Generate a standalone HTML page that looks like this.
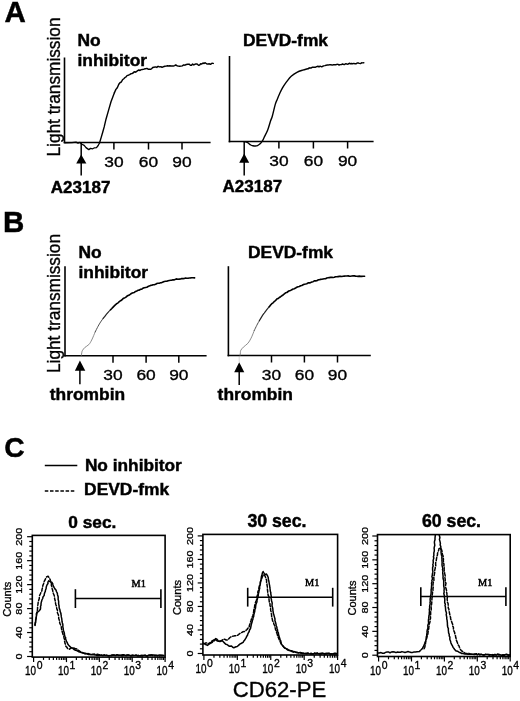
<!DOCTYPE html>
<html><head><meta charset="utf-8"><title>Figure</title>
<style>
html,body{margin:0;padding:0;background:#fff;}
body{width:520px;height:701px;overflow:hidden;}
svg{display:block;}
</style></head>
<body>
<svg width="520" height="701" viewBox="0 0 520 701">
<style>text{stroke:#000;stroke-width:0.35px;} text[font-weight="bold"]{stroke-width:0.45px;}</style>
<rect width="520" height="701" fill="#fff"/>
<text x="4.6" y="22" font-size="29.5" font-weight="bold" text-anchor="start" font-family='"Liberation Sans", Arial, Helvetica, sans-serif' >A</text>
<text x="3.0" y="231.6" font-size="29.5" font-weight="bold" text-anchor="start" font-family='"Liberation Sans", Arial, Helvetica, sans-serif' >B</text>
<text x="4.3" y="456.5" font-size="28.2" font-weight="bold" text-anchor="start" font-family='"Liberation Sans", Arial, Helvetica, sans-serif' >C</text>
<line x1="64.5" y1="57.5" x2="64.5" y2="143.3" stroke="#000" stroke-width="1.6" />
<line x1="63.7" y1="142.5" x2="210.6" y2="142.5" stroke="#000" stroke-width="1.6" />
<line x1="113.9" y1="142.5" x2="113.9" y2="149.5" stroke="#000" stroke-width="1.5" />
<line x1="148.5" y1="142.5" x2="148.5" y2="149.5" stroke="#000" stroke-width="1.5" />
<line x1="182" y1="142.5" x2="182" y2="149.5" stroke="#000" stroke-width="1.5" />
<text x="113.9" y="166.9" font-size="15.5" font-weight="normal" text-anchor="middle" font-family='"Liberation Sans", Arial, Helvetica, sans-serif' textLength="19.3" lengthAdjust="spacingAndGlyphs" >30</text>
<text x="148.5" y="166.9" font-size="15.5" font-weight="normal" text-anchor="middle" font-family='"Liberation Sans", Arial, Helvetica, sans-serif' textLength="19.3" lengthAdjust="spacingAndGlyphs" >60</text>
<text x="182" y="166.9" font-size="15.5" font-weight="normal" text-anchor="middle" font-family='"Liberation Sans", Arial, Helvetica, sans-serif' textLength="19.3" lengthAdjust="spacingAndGlyphs" >90</text>
<text x="77.5" y="45.6" font-size="17.4" font-weight="bold" text-anchor="start" font-family='"Liberation Sans", Arial, Helvetica, sans-serif' >No</text>
<text x="77.5" y="65.6" font-size="17.4" font-weight="bold" text-anchor="start" font-family='"Liberation Sans", Arial, Helvetica, sans-serif' >inhibitor</text>
<text transform="translate(60.0,87) rotate(-90)" x="0" y="0" font-size="18.3" text-anchor="middle" font-family='"Liberation Sans", Arial, Helvetica, sans-serif' textLength="139" lengthAdjust="spacingAndGlyphs" stroke="#000" stroke-width="0.25">Light transmission</text>
<text x="50.8" y="192.5" font-size="17.0" font-weight="bold" text-anchor="start" font-family='"Liberation Sans", Arial, Helvetica, sans-serif' >A23187</text>
<line x1="229.5" y1="56" x2="229.5" y2="142.3" stroke="#000" stroke-width="1.6" />
<line x1="228.7" y1="141.5" x2="373.6" y2="141.5" stroke="#000" stroke-width="1.6" />
<line x1="278.9" y1="141.5" x2="278.9" y2="148.5" stroke="#000" stroke-width="1.5" />
<line x1="313.4" y1="141.5" x2="313.4" y2="148.5" stroke="#000" stroke-width="1.5" />
<line x1="347.6" y1="141.5" x2="347.6" y2="148.5" stroke="#000" stroke-width="1.5" />
<text x="278.9" y="165.9" font-size="15.5" font-weight="normal" text-anchor="middle" font-family='"Liberation Sans", Arial, Helvetica, sans-serif' textLength="19.3" lengthAdjust="spacingAndGlyphs" >30</text>
<text x="313.4" y="165.9" font-size="15.5" font-weight="normal" text-anchor="middle" font-family='"Liberation Sans", Arial, Helvetica, sans-serif' textLength="19.3" lengthAdjust="spacingAndGlyphs" >60</text>
<text x="347.6" y="165.9" font-size="15.5" font-weight="normal" text-anchor="middle" font-family='"Liberation Sans", Arial, Helvetica, sans-serif' textLength="19.3" lengthAdjust="spacingAndGlyphs" >90</text>
<text x="243" y="45.5" font-size="17.4" font-weight="bold" text-anchor="start" font-family='"Liberation Sans", Arial, Helvetica, sans-serif' >DEVD-fmk</text>
<text x="222.6" y="192.4" font-size="17.0" font-weight="bold" text-anchor="start" font-family='"Liberation Sans", Arial, Helvetica, sans-serif' >A23187</text>
<line x1="65" y1="266.2" x2="65" y2="356.6" stroke="#000" stroke-width="1.6" />
<line x1="64.2" y1="355.8" x2="206.6" y2="355.8" stroke="#000" stroke-width="1.6" />
<line x1="113" y1="355.8" x2="113" y2="362.8" stroke="#000" stroke-width="1.5" />
<line x1="146.1" y1="355.8" x2="146.1" y2="362.8" stroke="#000" stroke-width="1.5" />
<line x1="178.8" y1="355.8" x2="178.8" y2="362.8" stroke="#000" stroke-width="1.5" />
<text x="113" y="380.2" font-size="15.5" font-weight="normal" text-anchor="middle" font-family='"Liberation Sans", Arial, Helvetica, sans-serif' textLength="19.3" lengthAdjust="spacingAndGlyphs" >30</text>
<text x="146.1" y="380.2" font-size="15.5" font-weight="normal" text-anchor="middle" font-family='"Liberation Sans", Arial, Helvetica, sans-serif' textLength="19.3" lengthAdjust="spacingAndGlyphs" >60</text>
<text x="178.8" y="380.2" font-size="15.5" font-weight="normal" text-anchor="middle" font-family='"Liberation Sans", Arial, Helvetica, sans-serif' textLength="19.3" lengthAdjust="spacingAndGlyphs" >90</text>
<text x="78.5" y="257.5" font-size="17.4" font-weight="bold" text-anchor="start" font-family='"Liberation Sans", Arial, Helvetica, sans-serif' >No</text>
<text x="78.5" y="278" font-size="17.4" font-weight="bold" text-anchor="start" font-family='"Liberation Sans", Arial, Helvetica, sans-serif' >inhibitor</text>
<text transform="translate(60.0,303.5) rotate(-90)" x="0" y="0" font-size="18.3" text-anchor="middle" font-family='"Liberation Sans", Arial, Helvetica, sans-serif' textLength="139" lengthAdjust="spacingAndGlyphs" stroke="#000" stroke-width="0.25">Light transmission</text>
<text x="49.8" y="400" font-size="17.4" font-weight="bold" text-anchor="start" font-family='"Liberation Sans", Arial, Helvetica, sans-serif' >thrombin</text>
<line x1="228.4" y1="266.2" x2="228.4" y2="356.3" stroke="#000" stroke-width="1.6" />
<line x1="227.6" y1="355.5" x2="370.8" y2="355.5" stroke="#000" stroke-width="1.6" />
<line x1="271.5" y1="355.5" x2="271.5" y2="362.5" stroke="#000" stroke-width="1.5" />
<line x1="304.4" y1="355.5" x2="304.4" y2="362.5" stroke="#000" stroke-width="1.5" />
<line x1="337.5" y1="355.5" x2="337.5" y2="362.5" stroke="#000" stroke-width="1.5" />
<text x="271.5" y="379.9" font-size="15.5" font-weight="normal" text-anchor="middle" font-family='"Liberation Sans", Arial, Helvetica, sans-serif' textLength="19.3" lengthAdjust="spacingAndGlyphs" >30</text>
<text x="304.4" y="379.9" font-size="15.5" font-weight="normal" text-anchor="middle" font-family='"Liberation Sans", Arial, Helvetica, sans-serif' textLength="19.3" lengthAdjust="spacingAndGlyphs" >60</text>
<text x="337.5" y="379.9" font-size="15.5" font-weight="normal" text-anchor="middle" font-family='"Liberation Sans", Arial, Helvetica, sans-serif' textLength="19.3" lengthAdjust="spacingAndGlyphs" >90</text>
<text x="248" y="257.5" font-size="17.4" font-weight="bold" text-anchor="start" font-family='"Liberation Sans", Arial, Helvetica, sans-serif' >DEVD-fmk</text>
<text x="217.6" y="399.6" font-size="17.4" font-weight="bold" text-anchor="start" font-family='"Liberation Sans", Arial, Helvetica, sans-serif' >thrombin</text>
<line x1="81.2" y1="142.8" x2="81.2" y2="175.6" stroke="#000" stroke-width="1.5" />
<polygon points="81.2,154.4 76.2,163.6 86.4,163.6" fill="#000"/>
<line x1="244.2" y1="141.7" x2="244.2" y2="175.4" stroke="#000" stroke-width="1.5" />
<polygon points="244.2,153.4 239.2,162.8 249.2,162.8" fill="#000"/>
<line x1="79.9" y1="365" x2="79.9" y2="384.3" stroke="#000" stroke-width="1.5" />
<polygon points="79.9,360.6 74.9,370.8 85.3,370.8" fill="#000"/>
<line x1="239.2" y1="365" x2="239.2" y2="385" stroke="#000" stroke-width="1.5" />
<polygon points="239.2,362.2 234.2,372.3 244.3,372.3" fill="#000"/>
<line x1="239.2" y1="356.5" x2="239.2" y2="362" stroke="#777" stroke-width="0.6" stroke-dasharray="1,1"/>
<polyline points="65.0,142.8 72.0,142.6 76.0,142.2 78.0,143.2 80.0,142.4 82.0,144.2 84.2,145.4 86.0,147.6 88.8,149.6 90.5,148.4 92.7,148.8 94.5,147.8 96.5,147.6 98.2,145.5 99.6,142.8" fill="none" stroke="#000" stroke-width="1.3" stroke-linejoin="round" stroke-linecap="round" />
<polyline points="99.6,142.8 101.2,137.4 102.7,132.3 104.2,126.9 106.0,119.2 108.6,110.1 111.0,101.7 114.4,92.7" fill="none" stroke="#000" stroke-width="1.4" stroke-linejoin="round" stroke-linecap="round" />
<polyline points="114.4,92.7 115.9,89.4 117.3,87.7 118.8,84.3 120.0,82.7 121.3,82.0 122.5,79.8 123.8,78.7 125.0,77.5 126.1,76.8 127.3,75.4 128.4,75.2 129.6,74.6 130.8,73.8 131.9,73.6 133.1,73.0 134.2,71.8 135.4,72.2 136.6,71.5 137.7,70.7 138.9,70.0 140.0,70.5 141.2,69.6 142.3,69.5 143.5,69.4 144.7,68.8 145.8,68.7 146.9,68.4 148.1,69.2 149.2,69.1 150.4,69.3 151.5,68.9 152.7,67.5 154.0,67.2 155.4,66.9 156.8,67.4 158.1,66.3 159.4,66.9 160.8,66.8 162.1,67.3 163.4,66.7 164.8,66.3 166.2,66.1 167.5,65.7 168.7,66.0 169.8,65.7 171.0,66.0 172.2,65.9 173.4,66.0 174.6,65.6 175.7,64.9 176.9,65.7 178.3,66.1 179.6,66.3 181.0,66.1 182.3,65.9 183.7,64.9 185.0,65.2 186.3,64.5 187.7,64.3 189.0,64.1 190.4,65.2 191.5,65.3 192.6,64.1 193.8,64.9 194.9,64.3 196.0,63.9 197.1,64.0 198.5,65.2 199.6,65.0 200.7,63.7 201.8,64.0 203.0,63.0 204.1,63.5 205.2,62.7 206.5,63.7 207.7,64.1 209.0,63.8 210.4,64.3 211.9,63.3 213.3,63.4" fill="none" stroke="#000" stroke-width="1.45" stroke-linejoin="round" stroke-linecap="round" />
<path d="M244.2,141.7 C244.5,141.7 245.4,141.8 246.0,141.9 C246.6,142.1 246.9,142.1 247.7,142.6 C248.5,143.1 249.9,144.5 250.8,145.0 C251.7,145.5 252.2,145.6 253.0,145.8 C253.8,146.0 254.7,146.0 255.4,146.0 C256.1,146.0 256.8,145.9 257.5,145.6 C258.2,145.3 258.9,144.8 259.5,144.3 C260.1,143.8 260.7,143.2 261.2,142.6 C261.7,142.0 262.0,141.6 262.6,140.6 C263.2,139.6 263.8,138.2 264.6,136.4 C265.5,134.6 266.7,132.6 267.7,130.0 C268.7,127.4 269.8,123.1 270.6,120.8 C271.4,118.5 271.5,118.9 272.3,116.2 C273.1,113.5 274.4,107.4 275.2,104.6 C276.0,101.8 276.5,101.2 277.2,99.4 C277.9,97.6 278.7,95.6 279.6,93.7 C280.5,91.8 281.4,89.8 282.5,87.9 C283.6,86.0 284.9,84.0 286.3,82.1 C287.8,80.2 289.4,77.9 291.2,76.3 C293.0,74.7 295.0,73.3 296.9,72.3 C298.8,71.3 300.8,70.7 302.7,70.1 C304.6,69.5 307.5,68.8 308.5,68.5" fill="none" stroke="#000" stroke-width="1.4" stroke-linejoin="round" stroke-linecap="round" />
<polyline points="308.5,68.5 309.7,67.8 310.9,68.1 312.1,67.3 313.3,67.2 314.4,67.2 315.6,67.2 316.7,66.6 317.9,66.2 319.0,66.9 320.1,66.2 321.2,66.7 322.4,66.5 323.5,65.9 324.8,65.6 326.2,65.2 327.5,64.9 328.7,64.9 329.9,64.8 331.0,64.8 332.2,65.1 333.4,64.7 334.5,64.6 335.7,64.8 336.9,64.3 338.0,64.4 339.1,65.0 340.2,64.6 341.4,64.6 342.5,64.0 343.6,64.4 344.7,64.4 345.9,63.7 347.0,64.2 348.1,64.0 349.3,63.3 350.4,63.7 351.5,63.5 352.6,63.7 353.8,63.4 354.9,63.7 356.0,63.8 357.1,63.0 358.2,62.9 359.3,63.4 360.5,63.6 361.6,62.8 362.7,62.9 363.8,62.8" fill="none" stroke="#000" stroke-width="1.45" stroke-linejoin="round" stroke-linecap="round" />
<path d="M81.3,355.6 C81.4,355.1 81.6,353.4 81.8,352.5 C82.0,351.6 82.0,351.2 82.5,350.4 C83.0,349.6 83.8,348.5 84.8,347.5 C85.8,346.5 87.6,345.9 88.8,344.6 C90.0,343.4 90.6,342.1 91.7,340.0 C92.8,337.9 94.6,333.2 95.2,331.9" fill="none" stroke="#666" stroke-width="0.75" stroke-linejoin="round" stroke-linecap="round" />
<path d="M95.2,331.9 C95.7,330.9 97.2,327.9 98.1,326.2 C99.0,324.5 99.8,323.3 100.6,322.0 C101.4,320.7 102.7,319.1 103.1,318.5" fill="none" stroke="#444" stroke-width="0.95" stroke-linejoin="round" stroke-linecap="round" />
<path d="M103.1,318.5 C103.5,318.0 104.8,316.4 105.6,315.3 C106.4,314.3 107.3,313.3 108.1,312.4 C108.9,311.5 110.2,310.1 110.6,309.7" fill="none" stroke="#222" stroke-width="1.2" stroke-linejoin="round" stroke-linecap="round" />
<polyline points="110.6,309.7 111.8,308.5 113.1,307.1 114.3,305.9 115.6,304.7 116.8,303.7 118.1,302.8 119.3,301.6 120.6,300.7 121.8,300.0 123.1,298.6 124.3,298.1 125.6,297.4 126.8,296.3 128.1,295.5 129.3,295.1 130.6,294.0 131.8,293.3 133.1,292.8 134.3,292.4 135.6,291.4 136.8,290.9 138.1,290.3 139.3,290.1 140.6,289.3 141.8,289.1 143.1,288.1 144.3,287.8 145.6,287.5 146.8,287.2 148.1,286.5 149.3,285.9 150.6,285.4 151.8,285.3 153.1,284.7 154.3,284.7 155.6,284.3 156.8,283.5 158.1,283.2 159.3,283.2 160.6,282.8 161.8,282.6 163.1,282.0 164.3,281.5 165.6,281.3 166.8,281.3 168.1,280.8 169.3,280.5 170.6,280.3 171.8,280.1 173.1,279.8 174.3,279.9 175.6,279.2 176.8,278.9 178.1,279.3 179.3,279.1 180.6,279.0 181.8,278.5 183.1,278.6 184.3,278.5 185.6,278.0 186.8,278.2 188.1,278.2 189.3,278.0 190.6,277.9 191.8,277.7 193.1,277.7 194.6,277.9" fill="none" stroke="#000" stroke-width="1.6" stroke-linejoin="round" stroke-linecap="round" />
<path d="M240.1,355.5 C240.2,355.0 240.3,353.4 240.4,352.5 C240.5,351.6 240.3,351.2 240.8,350.3 C241.3,349.4 242.2,348.3 243.4,347.1 C244.6,345.9 246.6,344.8 247.9,343.3 C249.2,341.8 250.0,340.2 251.1,338.1 C252.2,336.0 253.8,331.7 254.3,330.4" fill="none" stroke="#666" stroke-width="0.75" stroke-linejoin="round" stroke-linecap="round" />
<path d="M254.3,330.4 C254.7,329.6 256.0,326.9 256.8,325.3 C257.6,323.7 258.9,321.5 259.3,320.8" fill="none" stroke="#444" stroke-width="0.95" stroke-linejoin="round" stroke-linecap="round" />
<path d="M259.3,320.8 C259.7,320.1 261.0,317.9 261.8,316.6 C262.6,315.3 263.5,314.1 264.3,313.0 C265.1,311.8 266.0,310.7 266.8,309.6 C267.6,308.6 268.9,307.2 269.3,306.7" fill="none" stroke="#222" stroke-width="1.2" stroke-linejoin="round" stroke-linecap="round" />
<polyline points="269.3,306.7 270.6,305.1 271.8,303.7 273.1,302.8 274.3,301.4 275.6,300.6 276.8,299.1 278.1,298.6 279.3,297.5 280.6,296.7 281.8,295.8 283.1,295.0 284.3,293.9 285.6,292.8 286.8,292.5 288.1,291.5 289.3,290.8 290.6,290.4 291.8,289.7 293.1,289.0 294.3,288.7 295.6,288.0 296.8,287.3 298.1,286.7 299.3,286.5 300.6,285.8 301.8,285.5 303.1,284.8 304.3,284.2 305.6,284.0 306.8,283.7 308.1,282.9 309.3,282.9 310.6,282.6 311.8,282.1 313.1,281.7 314.3,280.9 315.6,280.9 316.8,280.7 318.1,279.9 319.3,279.7 320.6,279.4 321.8,279.3 323.1,279.0 324.3,278.7 325.6,278.7 326.8,278.0 328.1,277.8 329.3,277.6 330.6,277.4 331.8,277.2 333.1,277.5 334.3,277.3 335.6,276.7 336.8,276.8 338.1,276.6 339.3,276.4 340.6,276.4 341.8,276.5 343.1,276.3 344.3,276.1 345.6,276.0 346.8,276.0 348.1,275.9 349.3,276.1 350.6,276.2 351.8,276.0 353.1,275.8 354.3,275.9 355.6,276.1 356.8,276.2 358.1,276.4 359.3,276.1 360.6,276.4 361.8,276.4 363.1,276.3 364.3,276.3 364.6,276.3" fill="none" stroke="#000" stroke-width="1.6" stroke-linejoin="round" stroke-linecap="round" />
<line x1="44.8" y1="465.4" x2="77.3" y2="465.4" stroke="#000" stroke-width="1.5" />
<line x1="44.8" y1="491" x2="75.5" y2="491" stroke="#000" stroke-width="1.6" stroke-dasharray="3.5,1.7"/>
<text x="84.9" y="471.2" font-size="17.3" font-weight="bold" text-anchor="start" font-family='"Liberation Sans", Arial, Helvetica, sans-serif' >No inhibitor</text>
<text x="84.1" y="494.6" font-size="17.4" font-weight="bold" text-anchor="start" font-family='"Liberation Sans", Arial, Helvetica, sans-serif' >DEVD-fmk</text>
<rect x="32.3" y="535.4" width="132.8" height="121.70000000000005" fill="none" stroke="#000" stroke-width="1.6"/>
<line x1="27.1" y1="656.5" x2="32.3" y2="656.5" stroke="#000" stroke-width="1.2" />
<line x1="29.3" y1="651.71" x2="32.3" y2="651.71" stroke="#000" stroke-width="1.2" />
<line x1="29.3" y1="646.92" x2="32.3" y2="646.92" stroke="#000" stroke-width="1.2" />
<line x1="29.3" y1="642.12" x2="32.3" y2="642.12" stroke="#000" stroke-width="1.2" />
<line x1="29.3" y1="637.33" x2="32.3" y2="637.33" stroke="#000" stroke-width="1.2" />
<line x1="27.1" y1="632.54" x2="32.3" y2="632.54" stroke="#000" stroke-width="1.2" />
<line x1="29.3" y1="627.75" x2="32.3" y2="627.75" stroke="#000" stroke-width="1.2" />
<line x1="29.3" y1="622.96" x2="32.3" y2="622.96" stroke="#000" stroke-width="1.2" />
<line x1="29.3" y1="618.16" x2="32.3" y2="618.16" stroke="#000" stroke-width="1.2" />
<line x1="29.3" y1="613.37" x2="32.3" y2="613.37" stroke="#000" stroke-width="1.2" />
<line x1="27.1" y1="608.58" x2="32.3" y2="608.58" stroke="#000" stroke-width="1.2" />
<line x1="29.3" y1="603.79" x2="32.3" y2="603.79" stroke="#000" stroke-width="1.2" />
<line x1="29.3" y1="599.0" x2="32.3" y2="599.0" stroke="#000" stroke-width="1.2" />
<line x1="29.3" y1="594.2" x2="32.3" y2="594.2" stroke="#000" stroke-width="1.2" />
<line x1="29.3" y1="589.41" x2="32.3" y2="589.41" stroke="#000" stroke-width="1.2" />
<line x1="27.1" y1="584.62" x2="32.3" y2="584.62" stroke="#000" stroke-width="1.2" />
<line x1="29.3" y1="579.83" x2="32.3" y2="579.83" stroke="#000" stroke-width="1.2" />
<line x1="29.3" y1="575.04" x2="32.3" y2="575.04" stroke="#000" stroke-width="1.2" />
<line x1="29.3" y1="570.24" x2="32.3" y2="570.24" stroke="#000" stroke-width="1.2" />
<line x1="29.3" y1="565.45" x2="32.3" y2="565.45" stroke="#000" stroke-width="1.2" />
<line x1="27.1" y1="560.66" x2="32.3" y2="560.66" stroke="#000" stroke-width="1.2" />
<line x1="29.3" y1="555.87" x2="32.3" y2="555.87" stroke="#000" stroke-width="1.2" />
<line x1="29.3" y1="551.08" x2="32.3" y2="551.08" stroke="#000" stroke-width="1.2" />
<line x1="29.3" y1="546.28" x2="32.3" y2="546.28" stroke="#000" stroke-width="1.2" />
<line x1="29.3" y1="541.49" x2="32.3" y2="541.49" stroke="#000" stroke-width="1.2" />
<line x1="27.1" y1="536.7" x2="32.3" y2="536.7" stroke="#000" stroke-width="1.2" />
<text transform="translate(22.3,656.5) rotate(-90) scale(1,0.8)" font-size="11" text-anchor="middle" font-family='"Liberation Sans", Arial, Helvetica, sans-serif' textLength="6.0" lengthAdjust="spacingAndGlyphs">0</text>
<text transform="translate(22.3,632.5) rotate(-90) scale(1,0.8)" font-size="11" text-anchor="middle" font-family='"Liberation Sans", Arial, Helvetica, sans-serif' textLength="12.1" lengthAdjust="spacingAndGlyphs">40</text>
<text transform="translate(22.3,608.6) rotate(-90) scale(1,0.8)" font-size="11" text-anchor="middle" font-family='"Liberation Sans", Arial, Helvetica, sans-serif' textLength="12.1" lengthAdjust="spacingAndGlyphs">80</text>
<text transform="translate(22.3,584.6) rotate(-90) scale(1,0.8)" font-size="11" text-anchor="middle" font-family='"Liberation Sans", Arial, Helvetica, sans-serif' textLength="18.1" lengthAdjust="spacingAndGlyphs">120</text>
<text transform="translate(22.3,560.7) rotate(-90) scale(1,0.8)" font-size="11" text-anchor="middle" font-family='"Liberation Sans", Arial, Helvetica, sans-serif' textLength="18.1" lengthAdjust="spacingAndGlyphs">160</text>
<text transform="translate(22.3,536.7) rotate(-90) scale(1,0.8)" font-size="11" text-anchor="middle" font-family='"Liberation Sans", Arial, Helvetica, sans-serif' textLength="18.1" lengthAdjust="spacingAndGlyphs">200</text>
<text transform="translate(10.7,599.2) rotate(-90) scale(1,0.92)" font-size="11.3" text-anchor="middle" font-family='"Liberation Sans", Arial, Helvetica, sans-serif' textLength="35" lengthAdjust="spacingAndGlyphs">Counts</text>
<line x1="33.6" y1="657.1" x2="33.6" y2="662.1" stroke="#000" stroke-width="1.2" />
<line x1="43.5" y1="657.1" x2="43.5" y2="659.9" stroke="#000" stroke-width="1.2" />
<line x1="49.29" y1="657.1" x2="49.29" y2="659.9" stroke="#000" stroke-width="1.2" />
<line x1="53.39" y1="657.1" x2="53.39" y2="659.9" stroke="#000" stroke-width="1.2" />
<line x1="56.58" y1="657.1" x2="56.58" y2="659.9" stroke="#000" stroke-width="1.2" />
<line x1="59.18" y1="657.1" x2="59.18" y2="659.9" stroke="#000" stroke-width="1.2" />
<line x1="61.38" y1="657.1" x2="61.38" y2="659.9" stroke="#000" stroke-width="1.2" />
<line x1="63.29" y1="657.1" x2="63.29" y2="659.9" stroke="#000" stroke-width="1.2" />
<line x1="64.97" y1="657.1" x2="64.97" y2="659.9" stroke="#000" stroke-width="1.2" />
<line x1="66.47" y1="657.1" x2="66.47" y2="662.1" stroke="#000" stroke-width="1.2" />
<line x1="76.37" y1="657.1" x2="76.37" y2="659.9" stroke="#000" stroke-width="1.2" />
<line x1="82.16" y1="657.1" x2="82.16" y2="659.9" stroke="#000" stroke-width="1.2" />
<line x1="86.27" y1="657.1" x2="86.27" y2="659.9" stroke="#000" stroke-width="1.2" />
<line x1="89.45" y1="657.1" x2="89.45" y2="659.9" stroke="#000" stroke-width="1.2" />
<line x1="92.06" y1="657.1" x2="92.06" y2="659.9" stroke="#000" stroke-width="1.2" />
<line x1="94.26" y1="657.1" x2="94.26" y2="659.9" stroke="#000" stroke-width="1.2" />
<line x1="96.16" y1="657.1" x2="96.16" y2="659.9" stroke="#000" stroke-width="1.2" />
<line x1="97.85" y1="657.1" x2="97.85" y2="659.9" stroke="#000" stroke-width="1.2" />
<line x1="99.35" y1="657.1" x2="99.35" y2="662.1" stroke="#000" stroke-width="1.2" />
<line x1="109.25" y1="657.1" x2="109.25" y2="659.9" stroke="#000" stroke-width="1.2" />
<line x1="115.04" y1="657.1" x2="115.04" y2="659.9" stroke="#000" stroke-width="1.2" />
<line x1="119.14" y1="657.1" x2="119.14" y2="659.9" stroke="#000" stroke-width="1.2" />
<line x1="122.33" y1="657.1" x2="122.33" y2="659.9" stroke="#000" stroke-width="1.2" />
<line x1="124.93" y1="657.1" x2="124.93" y2="659.9" stroke="#000" stroke-width="1.2" />
<line x1="127.13" y1="657.1" x2="127.13" y2="659.9" stroke="#000" stroke-width="1.2" />
<line x1="129.04" y1="657.1" x2="129.04" y2="659.9" stroke="#000" stroke-width="1.2" />
<line x1="130.72" y1="657.1" x2="130.72" y2="659.9" stroke="#000" stroke-width="1.2" />
<line x1="132.22" y1="657.1" x2="132.22" y2="662.1" stroke="#000" stroke-width="1.2" />
<line x1="142.12" y1="657.1" x2="142.12" y2="659.9" stroke="#000" stroke-width="1.2" />
<line x1="147.91" y1="657.1" x2="147.91" y2="659.9" stroke="#000" stroke-width="1.2" />
<line x1="152.02" y1="657.1" x2="152.02" y2="659.9" stroke="#000" stroke-width="1.2" />
<line x1="155.2" y1="657.1" x2="155.2" y2="659.9" stroke="#000" stroke-width="1.2" />
<line x1="157.81" y1="657.1" x2="157.81" y2="659.9" stroke="#000" stroke-width="1.2" />
<line x1="160.01" y1="657.1" x2="160.01" y2="659.9" stroke="#000" stroke-width="1.2" />
<line x1="161.91" y1="657.1" x2="161.91" y2="659.9" stroke="#000" stroke-width="1.2" />
<line x1="163.6" y1="657.1" x2="163.6" y2="659.9" stroke="#000" stroke-width="1.2" />
<line x1="165.1" y1="657.1" x2="165.1" y2="662.1" stroke="#000" stroke-width="1.2" />
<text x="25.1" y="675.1" font-size="12.5" font-family='"Liberation Sans", Arial, Helvetica, sans-serif' textLength="11" lengthAdjust="spacingAndGlyphs">10</text>
<text x="36.7" y="669.3" font-size="11.8" font-family='"Liberation Sans", Arial, Helvetica, sans-serif' textLength="5.8" lengthAdjust="spacingAndGlyphs">0</text>
<text x="58.0" y="675.1" font-size="12.5" font-family='"Liberation Sans", Arial, Helvetica, sans-serif' textLength="11" lengthAdjust="spacingAndGlyphs">10</text>
<text x="69.6" y="669.3" font-size="11.8" font-family='"Liberation Sans", Arial, Helvetica, sans-serif' textLength="5.8" lengthAdjust="spacingAndGlyphs">1</text>
<text x="90.8" y="675.1" font-size="12.5" font-family='"Liberation Sans", Arial, Helvetica, sans-serif' textLength="11" lengthAdjust="spacingAndGlyphs">10</text>
<text x="102.4" y="669.3" font-size="11.8" font-family='"Liberation Sans", Arial, Helvetica, sans-serif' textLength="5.8" lengthAdjust="spacingAndGlyphs">2</text>
<text x="123.7" y="675.1" font-size="12.5" font-family='"Liberation Sans", Arial, Helvetica, sans-serif' textLength="11" lengthAdjust="spacingAndGlyphs">10</text>
<text x="135.3" y="669.3" font-size="11.8" font-family='"Liberation Sans", Arial, Helvetica, sans-serif' textLength="5.8" lengthAdjust="spacingAndGlyphs">3</text>
<text x="156.6" y="675.1" font-size="12.5" font-family='"Liberation Sans", Arial, Helvetica, sans-serif' textLength="11" lengthAdjust="spacingAndGlyphs">10</text>
<text x="168.2" y="669.3" font-size="11.8" font-family='"Liberation Sans", Arial, Helvetica, sans-serif' textLength="5.8" lengthAdjust="spacingAndGlyphs">4</text>
<text x="68.3" y="528" font-size="17.3" font-weight="bold" text-anchor="start" font-family='"Liberation Sans", Arial, Helvetica, sans-serif' >0 sec.</text>
<line x1="75.4" y1="598.6" x2="160.9" y2="598.6" stroke="#000" stroke-width="1.5" />
<line x1="75.4" y1="589.2" x2="75.4" y2="608.0" stroke="#000" stroke-width="1.6" />
<line x1="160.9" y1="589.2" x2="160.9" y2="608.0" stroke="#000" stroke-width="1.6" />
<text x="131.5" y="586.9" font-size="10.3" font-family='"Liberation Serif", "Times New Roman", serif' style="stroke-width:0.5px">M1</text>
<clipPath id="cp32"><rect x="32.3" y="535.4" width="132.8" height="121.70000000000005"/></clipPath>
<polyline points="35.0,625.4 35.1,624.0 35.2,622.6 35.7,621.2 35.6,619.8 36.1,618.4 36.3,617.0 36.5,615.4 36.7,613.9 37.3,612.3 39.0,611.0 40.4,609.2 40.6,607.9 40.5,606.6 41.0,605.3 41.0,603.9 41.2,602.6 41.6,601.3 41.9,600.0 42.7,598.5 43.0,597.0 44.2,595.4 44.3,594.0 44.7,592.7 45.3,591.4 45.5,590.0 46.1,588.7 46.2,587.5 46.5,586.2 47.0,584.9 48.0,583.5 47.9,582.1 48.8,580.8 50.5,582.0 51.9,582.3 52.7,583.6 53.0,585.0 53.5,586.4 54.2,587.7 54.9,588.9 56.0,590.0 56.4,591.5 57.3,593.1 57.5,594.7 58.1,596.4 58.2,598.0 58.1,599.3 58.5,600.6 58.7,602.0 58.6,603.3 58.8,604.6 59.1,606.0 59.1,607.3 59.4,608.6 60.0,610.0 60.1,611.4 60.7,612.7 60.9,614.0 61.2,615.4 61.3,616.9 61.7,618.4 61.9,620.0 62.0,621.5 62.4,623.0 62.8,624.3 62.9,625.6 62.8,626.9 63.2,628.2 63.3,629.5 63.5,630.8 64.1,632.2 64.4,633.6 64.5,635.1 65.0,636.5 65.7,637.8 65.5,639.0 66.1,640.2 66.5,641.5 67.3,642.7 67.6,643.8 68.5,645.0 69.8,646.4 71.2,647.7 72.6,648.1 74.0,649.5 75.7,650.3 77.3,650.8 78.9,651.8 80.5,652.2 82.0,652.7 83.5,653.1 85.0,653.9 86.5,653.6 88.1,654.4 89.6,654.6 90.9,654.8 92.3,654.8 93.7,654.8 95.0,654.9 96.7,655.4 98.3,655.6 100.0,655.2 101.4,655.2 102.9,655.4 104.3,654.8 105.7,655.5 107.1,655.5 108.6,655.9 110.0,655.4 111.4,655.7 112.9,655.1 114.3,655.2 115.7,655.5 117.1,654.7 118.6,655.2 120.0,655.2 121.4,654.9 122.7,654.8 124.1,654.8 125.5,655.6 126.8,654.9 128.2,655.1 129.5,655.3 130.9,655.8 132.3,655.0 133.6,655.4 135.0,655.5 136.4,655.5 137.7,655.9 139.1,655.8 140.5,655.9 141.8,655.2 143.2,655.4 144.5,655.3 145.9,655.8 147.3,655.9 148.6,655.0 150.0,655.4 151.4,655.1 152.8,655.1 154.2,655.1 155.6,655.4 157.0,655.5 158.4,655.2 159.8,654.9 161.2,655.4 162.6,655.3 164.0,655.5" fill="none" stroke="#000" stroke-width="1.5" stroke-linejoin="round" stroke-linecap="round" clip-path="url(#cp32)"/>
<polyline points="35.0,625.0 35.3,623.6 35.7,622.1 35.8,620.7 35.9,619.3 36.1,617.9 36.4,616.4 36.5,615.0 36.4,613.6 37.1,612.1 37.2,610.7 37.5,609.3 37.6,607.9 37.5,606.4 37.8,605.0 38.1,603.3 38.2,601.7 38.8,600.0 39.3,598.5 39.3,597.0 39.6,595.5 40.3,594.0 40.9,592.4 41.9,590.8 42.0,589.4 42.4,588.1 42.6,586.7 42.9,585.4 43.5,584.0 43.8,582.7 44.2,581.3 45.0,580.0 45.7,578.5 46.5,577.0 48.1,576.2 49.3,578.0 50.4,580.0 50.4,581.4 51.3,582.8 51.4,584.2 51.4,585.6 52.0,587.0 52.1,588.4 52.5,589.7 52.8,591.1 53.0,592.4 53.5,593.8 54.1,595.3 54.6,596.9 54.6,598.5 55.0,600.0 55.4,601.5 55.5,603.1 55.9,604.7 56.5,606.2 56.6,607.5 56.8,608.8 57.5,610.1 57.3,611.4 57.4,612.7 58.0,614.0 58.6,615.5 58.7,617.0 58.7,618.5 59.3,620.0 59.6,621.5 59.7,623.0 60.4,624.5 61.1,626.0 61.4,627.5 61.5,629.0 62.0,630.3 62.1,631.6 62.6,632.8 62.9,634.1 63.5,635.4 63.9,636.7 64.0,638.0 64.5,639.4 64.4,640.7 64.8,642.0 65.0,643.4 65.7,644.8 65.8,646.2 67.0,647.4 67.5,648.5 69.6,649.2 71.0,648.0 72.7,647.7 75.0,648.5 77.3,649.2 78.4,650.5 79.5,651.0 80.7,652.0 81.9,652.3 83.5,653.1 85.0,653.2 86.7,653.8 88.3,653.6 90.0,654.2 91.5,654.4 93.0,654.3 94.5,654.1 96.0,654.8 97.5,654.3 99.0,654.7 100.5,654.7 102.0,655.2 103.5,655.6 105.0,655.1 106.4,655.1 107.7,655.6 109.1,655.7 110.5,655.7 111.8,655.0 113.2,654.9 114.5,654.9 115.9,654.9 117.3,654.9 118.6,655.4 120.0,655.3 121.3,655.7 122.7,655.7 124.0,655.3 125.3,655.5 126.7,655.7 128.0,654.9 129.3,655.5 130.7,655.8 132.0,655.7 133.3,655.6 134.7,655.3 136.0,655.0 137.3,655.7 138.7,655.2 140.0,655.4 141.3,655.7 142.7,655.9 144.0,655.3 145.3,655.3 146.7,655.9 148.0,655.7 149.3,655.1 150.7,655.0 152.0,655.1 153.3,655.9 154.7,655.8 156.0,655.1 157.3,655.8 158.7,656.0 160.0,655.7 161.3,655.3 162.7,655.5 164.0,655.5" fill="none" stroke="#000" stroke-width="1.5" stroke-linejoin="round" stroke-linecap="round" stroke-dasharray="3.2,1.8" clip-path="url(#cp32)"/>
<rect x="202.9" y="534.4" width="134.70000000000002" height="120.60000000000002" fill="none" stroke="#000" stroke-width="1.6"/>
<line x1="197.7" y1="653.5" x2="202.9" y2="653.5" stroke="#000" stroke-width="1.2" />
<line x1="199.9" y1="648.8" x2="202.9" y2="648.8" stroke="#000" stroke-width="1.2" />
<line x1="199.9" y1="644.09" x2="202.9" y2="644.09" stroke="#000" stroke-width="1.2" />
<line x1="199.9" y1="639.39" x2="202.9" y2="639.39" stroke="#000" stroke-width="1.2" />
<line x1="199.9" y1="634.68" x2="202.9" y2="634.68" stroke="#000" stroke-width="1.2" />
<line x1="197.7" y1="629.98" x2="202.9" y2="629.98" stroke="#000" stroke-width="1.2" />
<line x1="199.9" y1="625.28" x2="202.9" y2="625.28" stroke="#000" stroke-width="1.2" />
<line x1="199.9" y1="620.57" x2="202.9" y2="620.57" stroke="#000" stroke-width="1.2" />
<line x1="199.9" y1="615.87" x2="202.9" y2="615.87" stroke="#000" stroke-width="1.2" />
<line x1="199.9" y1="611.16" x2="202.9" y2="611.16" stroke="#000" stroke-width="1.2" />
<line x1="197.7" y1="606.46" x2="202.9" y2="606.46" stroke="#000" stroke-width="1.2" />
<line x1="199.9" y1="601.76" x2="202.9" y2="601.76" stroke="#000" stroke-width="1.2" />
<line x1="199.9" y1="597.05" x2="202.9" y2="597.05" stroke="#000" stroke-width="1.2" />
<line x1="199.9" y1="592.35" x2="202.9" y2="592.35" stroke="#000" stroke-width="1.2" />
<line x1="199.9" y1="587.64" x2="202.9" y2="587.64" stroke="#000" stroke-width="1.2" />
<line x1="197.7" y1="582.94" x2="202.9" y2="582.94" stroke="#000" stroke-width="1.2" />
<line x1="199.9" y1="578.24" x2="202.9" y2="578.24" stroke="#000" stroke-width="1.2" />
<line x1="199.9" y1="573.53" x2="202.9" y2="573.53" stroke="#000" stroke-width="1.2" />
<line x1="199.9" y1="568.83" x2="202.9" y2="568.83" stroke="#000" stroke-width="1.2" />
<line x1="199.9" y1="564.12" x2="202.9" y2="564.12" stroke="#000" stroke-width="1.2" />
<line x1="197.7" y1="559.42" x2="202.9" y2="559.42" stroke="#000" stroke-width="1.2" />
<line x1="199.9" y1="554.72" x2="202.9" y2="554.72" stroke="#000" stroke-width="1.2" />
<line x1="199.9" y1="550.01" x2="202.9" y2="550.01" stroke="#000" stroke-width="1.2" />
<line x1="199.9" y1="545.31" x2="202.9" y2="545.31" stroke="#000" stroke-width="1.2" />
<line x1="199.9" y1="540.6" x2="202.9" y2="540.6" stroke="#000" stroke-width="1.2" />
<line x1="197.7" y1="535.9" x2="202.9" y2="535.9" stroke="#000" stroke-width="1.2" />
<text transform="translate(192.9,653.5) rotate(-90) scale(1,0.8)" font-size="11" text-anchor="middle" font-family='"Liberation Sans", Arial, Helvetica, sans-serif' textLength="6.0" lengthAdjust="spacingAndGlyphs">0</text>
<text transform="translate(192.9,630.0) rotate(-90) scale(1,0.8)" font-size="11" text-anchor="middle" font-family='"Liberation Sans", Arial, Helvetica, sans-serif' textLength="12.1" lengthAdjust="spacingAndGlyphs">40</text>
<text transform="translate(192.9,606.5) rotate(-90) scale(1,0.8)" font-size="11" text-anchor="middle" font-family='"Liberation Sans", Arial, Helvetica, sans-serif' textLength="12.1" lengthAdjust="spacingAndGlyphs">80</text>
<text transform="translate(192.9,582.9) rotate(-90) scale(1,0.8)" font-size="11" text-anchor="middle" font-family='"Liberation Sans", Arial, Helvetica, sans-serif' textLength="18.1" lengthAdjust="spacingAndGlyphs">120</text>
<text transform="translate(192.9,559.4) rotate(-90) scale(1,0.8)" font-size="11" text-anchor="middle" font-family='"Liberation Sans", Arial, Helvetica, sans-serif' textLength="18.1" lengthAdjust="spacingAndGlyphs">160</text>
<text transform="translate(192.9,535.9) rotate(-90) scale(1,0.8)" font-size="11" text-anchor="middle" font-family='"Liberation Sans", Arial, Helvetica, sans-serif' textLength="18.1" lengthAdjust="spacingAndGlyphs">200</text>
<text transform="translate(181.3,597.5) rotate(-90) scale(1,0.92)" font-size="11.3" text-anchor="middle" font-family='"Liberation Sans", Arial, Helvetica, sans-serif' textLength="35" lengthAdjust="spacingAndGlyphs">Counts</text>
<line x1="203.9" y1="655.0" x2="203.9" y2="660.0" stroke="#000" stroke-width="1.2" />
<line x1="213.96" y1="655.0" x2="213.96" y2="657.8" stroke="#000" stroke-width="1.2" />
<line x1="219.85" y1="655.0" x2="219.85" y2="657.8" stroke="#000" stroke-width="1.2" />
<line x1="224.02" y1="655.0" x2="224.02" y2="657.8" stroke="#000" stroke-width="1.2" />
<line x1="227.26" y1="655.0" x2="227.26" y2="657.8" stroke="#000" stroke-width="1.2" />
<line x1="229.91" y1="655.0" x2="229.91" y2="657.8" stroke="#000" stroke-width="1.2" />
<line x1="232.15" y1="655.0" x2="232.15" y2="657.8" stroke="#000" stroke-width="1.2" />
<line x1="234.09" y1="655.0" x2="234.09" y2="657.8" stroke="#000" stroke-width="1.2" />
<line x1="235.8" y1="655.0" x2="235.8" y2="657.8" stroke="#000" stroke-width="1.2" />
<line x1="237.33" y1="655.0" x2="237.33" y2="660.0" stroke="#000" stroke-width="1.2" />
<line x1="247.39" y1="655.0" x2="247.39" y2="657.8" stroke="#000" stroke-width="1.2" />
<line x1="253.27" y1="655.0" x2="253.27" y2="657.8" stroke="#000" stroke-width="1.2" />
<line x1="257.45" y1="655.0" x2="257.45" y2="657.8" stroke="#000" stroke-width="1.2" />
<line x1="260.69" y1="655.0" x2="260.69" y2="657.8" stroke="#000" stroke-width="1.2" />
<line x1="263.33" y1="655.0" x2="263.33" y2="657.8" stroke="#000" stroke-width="1.2" />
<line x1="265.57" y1="655.0" x2="265.57" y2="657.8" stroke="#000" stroke-width="1.2" />
<line x1="267.51" y1="655.0" x2="267.51" y2="657.8" stroke="#000" stroke-width="1.2" />
<line x1="269.22" y1="655.0" x2="269.22" y2="657.8" stroke="#000" stroke-width="1.2" />
<line x1="270.75" y1="655.0" x2="270.75" y2="660.0" stroke="#000" stroke-width="1.2" />
<line x1="280.81" y1="655.0" x2="280.81" y2="657.8" stroke="#000" stroke-width="1.2" />
<line x1="286.7" y1="655.0" x2="286.7" y2="657.8" stroke="#000" stroke-width="1.2" />
<line x1="290.87" y1="655.0" x2="290.87" y2="657.8" stroke="#000" stroke-width="1.2" />
<line x1="294.11" y1="655.0" x2="294.11" y2="657.8" stroke="#000" stroke-width="1.2" />
<line x1="296.76" y1="655.0" x2="296.76" y2="657.8" stroke="#000" stroke-width="1.2" />
<line x1="299.0" y1="655.0" x2="299.0" y2="657.8" stroke="#000" stroke-width="1.2" />
<line x1="300.94" y1="655.0" x2="300.94" y2="657.8" stroke="#000" stroke-width="1.2" />
<line x1="302.65" y1="655.0" x2="302.65" y2="657.8" stroke="#000" stroke-width="1.2" />
<line x1="304.18" y1="655.0" x2="304.18" y2="660.0" stroke="#000" stroke-width="1.2" />
<line x1="314.24" y1="655.0" x2="314.24" y2="657.8" stroke="#000" stroke-width="1.2" />
<line x1="320.12" y1="655.0" x2="320.12" y2="657.8" stroke="#000" stroke-width="1.2" />
<line x1="324.3" y1="655.0" x2="324.3" y2="657.8" stroke="#000" stroke-width="1.2" />
<line x1="327.54" y1="655.0" x2="327.54" y2="657.8" stroke="#000" stroke-width="1.2" />
<line x1="330.18" y1="655.0" x2="330.18" y2="657.8" stroke="#000" stroke-width="1.2" />
<line x1="332.42" y1="655.0" x2="332.42" y2="657.8" stroke="#000" stroke-width="1.2" />
<line x1="334.36" y1="655.0" x2="334.36" y2="657.8" stroke="#000" stroke-width="1.2" />
<line x1="336.07" y1="655.0" x2="336.07" y2="657.8" stroke="#000" stroke-width="1.2" />
<line x1="337.6" y1="655.0" x2="337.6" y2="660.0" stroke="#000" stroke-width="1.2" />
<text x="195.4" y="673.0" font-size="12.5" font-family='"Liberation Sans", Arial, Helvetica, sans-serif' textLength="11" lengthAdjust="spacingAndGlyphs">10</text>
<text x="207.0" y="667.2" font-size="11.8" font-family='"Liberation Sans", Arial, Helvetica, sans-serif' textLength="5.8" lengthAdjust="spacingAndGlyphs">0</text>
<text x="228.8" y="673.0" font-size="12.5" font-family='"Liberation Sans", Arial, Helvetica, sans-serif' textLength="11" lengthAdjust="spacingAndGlyphs">10</text>
<text x="240.4" y="667.2" font-size="11.8" font-family='"Liberation Sans", Arial, Helvetica, sans-serif' textLength="5.8" lengthAdjust="spacingAndGlyphs">1</text>
<text x="262.2" y="673.0" font-size="12.5" font-family='"Liberation Sans", Arial, Helvetica, sans-serif' textLength="11" lengthAdjust="spacingAndGlyphs">10</text>
<text x="273.9" y="667.2" font-size="11.8" font-family='"Liberation Sans", Arial, Helvetica, sans-serif' textLength="5.8" lengthAdjust="spacingAndGlyphs">2</text>
<text x="295.7" y="673.0" font-size="12.5" font-family='"Liberation Sans", Arial, Helvetica, sans-serif' textLength="11" lengthAdjust="spacingAndGlyphs">10</text>
<text x="307.3" y="667.2" font-size="11.8" font-family='"Liberation Sans", Arial, Helvetica, sans-serif' textLength="5.8" lengthAdjust="spacingAndGlyphs">3</text>
<text x="329.1" y="673.0" font-size="12.5" font-family='"Liberation Sans", Arial, Helvetica, sans-serif' textLength="11" lengthAdjust="spacingAndGlyphs">10</text>
<text x="340.7" y="667.2" font-size="11.8" font-family='"Liberation Sans", Arial, Helvetica, sans-serif' textLength="5.8" lengthAdjust="spacingAndGlyphs">4</text>
<text x="247.4" y="526.5" font-size="17.7" font-weight="bold" text-anchor="start" font-family='"Liberation Sans", Arial, Helvetica, sans-serif' >30 sec.</text>
<line x1="247.7" y1="597.2" x2="332.7" y2="597.2" stroke="#000" stroke-width="1.5" />
<line x1="247.7" y1="587.8" x2="247.7" y2="606.6" stroke="#000" stroke-width="1.6" />
<line x1="332.7" y1="587.8" x2="332.7" y2="606.6" stroke="#000" stroke-width="1.6" />
<text x="305" y="586.3" font-size="10.3" font-family='"Liberation Serif", "Times New Roman", serif' style="stroke-width:0.5px">M1</text>
<clipPath id="cp202"><rect x="202.9" y="534.4" width="134.70000000000002" height="120.60000000000002"/></clipPath>
<polyline points="203.4,643.1 205.5,644.5 207.7,645.4 208.8,644.0 210.0,643.5 212.3,642.3 213.3,640.7 214.4,640.8 215.4,639.2 216.4,640.3 217.5,641.0 220.0,641.5 222.0,640.5 223.3,641.8 224.6,643.1 225.8,644.3 227.0,644.5 228.1,645.3 229.2,646.2 231.5,646.0 232.7,647.3 233.8,647.7 236.0,646.8 237.2,646.5 238.5,645.4 239.8,644.1 241.0,643.5 243.1,642.3 243.8,641.1 244.8,640.0 245.4,638.9 246.2,637.7 246.6,636.5 247.5,635.2 247.8,634.0 248.5,632.7 249.2,631.5 249.5,630.0 250.5,628.5 250.8,627.0 251.1,625.5 251.5,623.9 252.0,622.3 252.3,620.8 252.9,619.3 253.0,617.9 253.7,616.5 253.8,615.0 254.1,613.7 254.5,612.4 254.8,611.1 254.8,609.8 255.4,608.5 255.6,607.1 255.7,605.8 255.9,604.4 256.5,603.0 257.0,601.7 256.9,600.4 257.4,599.0 257.7,597.7 258.1,596.4 258.3,595.0 258.4,593.7 258.8,592.3 259.0,591.0 259.3,589.6 259.7,588.2 259.5,586.8 260.0,585.4 260.3,584.1 260.3,582.8 260.5,581.5 261.0,580.1 261.1,578.8 261.3,577.5 261.5,576.2 262.1,574.6 262.3,573.0 263.1,571.5 264.2,573.5 265.4,574.6 266.5,574.0 267.7,576.2 268.3,577.7 268.3,579.1 268.7,580.5 269.0,582.0 269.2,583.3 269.4,584.6 269.7,585.9 269.8,587.2 270.0,588.5 270.2,589.9 270.3,591.2 270.8,592.6 270.8,594.0 271.1,595.3 271.3,596.7 271.0,598.1 271.4,599.4 271.5,600.8 272.0,602.2 272.2,603.7 272.0,605.1 272.2,606.6 272.7,608.0 272.9,609.3 272.9,610.6 273.2,612.0 273.3,613.3 273.8,614.6 274.2,616.1 274.6,617.6 275.0,619.0 274.9,620.5 275.4,622.0 275.8,623.3 276.1,624.6 276.1,625.9 276.9,627.2 276.9,628.5 277.6,630.0 277.5,631.5 278.4,633.0 278.5,634.5 278.9,636.1 279.5,637.6 280.0,639.2 280.7,640.7 281.0,642.1 281.2,643.6 281.9,644.7 283.0,645.9 284.0,647.0 285.3,648.1 286.5,648.9 287.8,650.1 289.2,650.2 290.6,650.8 292.0,651.5 293.3,652.1 294.7,651.6 296.0,652.5 297.5,652.7 299.0,652.8 300.5,652.5 302.0,653.2 303.4,653.1 304.8,653.5 306.2,653.5 307.6,653.0 309.0,653.6 310.4,654.1 311.8,653.9 313.1,654.1 314.5,653.1 315.9,653.3 317.2,653.0 318.6,653.8 320.0,653.5 321.3,653.3 322.6,653.1 323.9,653.5 325.2,654.0 326.5,653.9 327.8,653.3 329.2,653.2 330.5,654.1 331.8,653.7 333.1,653.9 334.4,653.2 335.7,653.2 337.0,653.7" fill="none" stroke="#000" stroke-width="1.5" stroke-linejoin="round" stroke-linecap="round" clip-path="url(#cp202)"/>
<polyline points="203.4,643.8 204.7,643.5 206.0,642.8 207.6,643.2 209.2,643.8 210.1,642.4 211.1,642.4 212.0,641.0 213.1,640.3 214.3,639.7 215.4,638.5 216.7,639.0 218.0,640.5 219.8,641.0 221.5,640.8 223.0,639.5 224.5,639.2 226.1,640.0 227.7,640.0 228.8,638.8 230.0,637.5 231.2,636.7 232.3,636.2 233.7,636.1 235.0,635.8 236.8,635.7 238.5,634.6 239.8,633.5 241.0,633.0 242.8,631.8 244.6,631.5 245.8,630.5 247.0,629.5 247.9,628.2 249.2,626.9 249.4,625.4 249.9,624.0 250.3,622.5 251.0,621.0 251.2,619.7 251.7,618.4 252.1,617.2 252.9,615.9 253.1,614.6 253.3,613.1 253.7,611.6 253.8,610.0 254.2,608.5 254.6,607.0 254.7,605.5 255.2,603.9 255.5,602.3 256.2,600.8 256.6,599.5 256.8,598.2 256.8,596.9 257.3,595.6 257.8,594.3 257.8,593.0 257.9,591.5 258.7,590.0 258.8,588.4 259.2,586.9 259.6,585.3 260.3,583.6 260.5,582.0 260.9,580.6 261.5,579.2 262.1,577.6 262.7,576.0 263.8,574.6 265.0,576.0 265.7,577.6 266.2,579.2 266.7,580.7 266.5,582.1 267.0,583.5 267.0,585.0 267.3,586.3 267.4,587.6 267.4,588.9 267.5,590.2 267.7,591.5 267.7,592.8 268.0,594.1 268.2,595.4 268.9,596.7 269.0,598.0 269.0,599.5 269.2,601.0 269.3,602.4 270.0,603.9 270.0,605.4 270.5,606.7 270.6,608.0 270.6,609.4 270.8,610.7 271.2,612.0 271.3,613.4 271.6,614.9 271.6,616.3 272.0,617.8 272.3,619.2 272.6,620.8 273.6,622.4 273.8,624.0 274.6,625.5 274.9,627.0 275.4,628.5 275.6,629.8 276.5,631.0 276.5,632.2 277.0,633.5 277.4,634.9 277.7,636.3 278.5,637.7 278.9,639.0 279.5,640.2 280.0,641.5 280.7,642.7 281.1,643.8 282.0,645.0 283.0,646.1 283.7,647.2 285.0,648.3 286.3,648.8 287.7,649.3 289.0,650.5 290.2,650.8 291.5,650.8 292.8,651.2 294.0,652.2 295.5,652.2 297.0,652.3 298.5,652.9 300.0,653.0 301.4,653.1 302.9,653.4 304.3,653.4 305.7,653.5 307.1,653.8 308.6,653.3 310.0,653.5 311.4,653.3 312.7,654.1 314.1,653.1 315.4,653.8 316.8,653.7 318.1,653.1 319.4,653.9 320.8,654.0 322.1,653.7 323.5,653.9 324.9,654.0 326.2,653.2 327.6,653.7 328.9,653.6 330.2,654.0 331.6,654.0 332.9,654.0 334.3,653.8 335.6,654.1 337.0,653.7" fill="none" stroke="#000" stroke-width="1.5" stroke-linejoin="round" stroke-linecap="round" stroke-dasharray="3.2,1.8" clip-path="url(#cp202)"/>
<rect x="377.5" y="534.6" width="132.7" height="121.89999999999998" fill="none" stroke="#000" stroke-width="1.6"/>
<line x1="372.3" y1="655.2" x2="377.5" y2="655.2" stroke="#000" stroke-width="1.2" />
<line x1="374.5" y1="650.43" x2="377.5" y2="650.43" stroke="#000" stroke-width="1.2" />
<line x1="374.5" y1="645.66" x2="377.5" y2="645.66" stroke="#000" stroke-width="1.2" />
<line x1="374.5" y1="640.9" x2="377.5" y2="640.9" stroke="#000" stroke-width="1.2" />
<line x1="374.5" y1="636.13" x2="377.5" y2="636.13" stroke="#000" stroke-width="1.2" />
<line x1="372.3" y1="631.36" x2="377.5" y2="631.36" stroke="#000" stroke-width="1.2" />
<line x1="374.5" y1="626.59" x2="377.5" y2="626.59" stroke="#000" stroke-width="1.2" />
<line x1="374.5" y1="621.82" x2="377.5" y2="621.82" stroke="#000" stroke-width="1.2" />
<line x1="374.5" y1="617.06" x2="377.5" y2="617.06" stroke="#000" stroke-width="1.2" />
<line x1="374.5" y1="612.29" x2="377.5" y2="612.29" stroke="#000" stroke-width="1.2" />
<line x1="372.3" y1="607.52" x2="377.5" y2="607.52" stroke="#000" stroke-width="1.2" />
<line x1="374.5" y1="602.75" x2="377.5" y2="602.75" stroke="#000" stroke-width="1.2" />
<line x1="374.5" y1="597.98" x2="377.5" y2="597.98" stroke="#000" stroke-width="1.2" />
<line x1="374.5" y1="593.22" x2="377.5" y2="593.22" stroke="#000" stroke-width="1.2" />
<line x1="374.5" y1="588.45" x2="377.5" y2="588.45" stroke="#000" stroke-width="1.2" />
<line x1="372.3" y1="583.68" x2="377.5" y2="583.68" stroke="#000" stroke-width="1.2" />
<line x1="374.5" y1="578.91" x2="377.5" y2="578.91" stroke="#000" stroke-width="1.2" />
<line x1="374.5" y1="574.14" x2="377.5" y2="574.14" stroke="#000" stroke-width="1.2" />
<line x1="374.5" y1="569.38" x2="377.5" y2="569.38" stroke="#000" stroke-width="1.2" />
<line x1="374.5" y1="564.61" x2="377.5" y2="564.61" stroke="#000" stroke-width="1.2" />
<line x1="372.3" y1="559.84" x2="377.5" y2="559.84" stroke="#000" stroke-width="1.2" />
<line x1="374.5" y1="555.07" x2="377.5" y2="555.07" stroke="#000" stroke-width="1.2" />
<line x1="374.5" y1="550.3" x2="377.5" y2="550.3" stroke="#000" stroke-width="1.2" />
<line x1="374.5" y1="545.54" x2="377.5" y2="545.54" stroke="#000" stroke-width="1.2" />
<line x1="374.5" y1="540.77" x2="377.5" y2="540.77" stroke="#000" stroke-width="1.2" />
<line x1="372.3" y1="536.0" x2="377.5" y2="536.0" stroke="#000" stroke-width="1.2" />
<text transform="translate(367.5,655.2) rotate(-90) scale(1,0.8)" font-size="11" text-anchor="middle" font-family='"Liberation Sans", Arial, Helvetica, sans-serif' textLength="6.0" lengthAdjust="spacingAndGlyphs">0</text>
<text transform="translate(367.5,631.4) rotate(-90) scale(1,0.8)" font-size="11" text-anchor="middle" font-family='"Liberation Sans", Arial, Helvetica, sans-serif' textLength="12.1" lengthAdjust="spacingAndGlyphs">40</text>
<text transform="translate(367.5,607.5) rotate(-90) scale(1,0.8)" font-size="11" text-anchor="middle" font-family='"Liberation Sans", Arial, Helvetica, sans-serif' textLength="12.1" lengthAdjust="spacingAndGlyphs">80</text>
<text transform="translate(367.5,583.7) rotate(-90) scale(1,0.8)" font-size="11" text-anchor="middle" font-family='"Liberation Sans", Arial, Helvetica, sans-serif' textLength="18.1" lengthAdjust="spacingAndGlyphs">120</text>
<text transform="translate(367.5,559.8) rotate(-90) scale(1,0.8)" font-size="11" text-anchor="middle" font-family='"Liberation Sans", Arial, Helvetica, sans-serif' textLength="18.1" lengthAdjust="spacingAndGlyphs">160</text>
<text transform="translate(367.5,536.0) rotate(-90) scale(1,0.8)" font-size="11" text-anchor="middle" font-family='"Liberation Sans", Arial, Helvetica, sans-serif' textLength="18.1" lengthAdjust="spacingAndGlyphs">200</text>
<text transform="translate(355.9,598.1) rotate(-90) scale(1,0.92)" font-size="11.3" text-anchor="middle" font-family='"Liberation Sans", Arial, Helvetica, sans-serif' textLength="35" lengthAdjust="spacingAndGlyphs">Counts</text>
<line x1="378.6" y1="656.5" x2="378.6" y2="661.5" stroke="#000" stroke-width="1.2" />
<line x1="388.5" y1="656.5" x2="388.5" y2="659.3" stroke="#000" stroke-width="1.2" />
<line x1="394.3" y1="656.5" x2="394.3" y2="659.3" stroke="#000" stroke-width="1.2" />
<line x1="398.41" y1="656.5" x2="398.41" y2="659.3" stroke="#000" stroke-width="1.2" />
<line x1="401.6" y1="656.5" x2="401.6" y2="659.3" stroke="#000" stroke-width="1.2" />
<line x1="404.2" y1="656.5" x2="404.2" y2="659.3" stroke="#000" stroke-width="1.2" />
<line x1="406.4" y1="656.5" x2="406.4" y2="659.3" stroke="#000" stroke-width="1.2" />
<line x1="408.31" y1="656.5" x2="408.31" y2="659.3" stroke="#000" stroke-width="1.2" />
<line x1="409.99" y1="656.5" x2="409.99" y2="659.3" stroke="#000" stroke-width="1.2" />
<line x1="411.5" y1="656.5" x2="411.5" y2="661.5" stroke="#000" stroke-width="1.2" />
<line x1="421.4" y1="656.5" x2="421.4" y2="659.3" stroke="#000" stroke-width="1.2" />
<line x1="427.2" y1="656.5" x2="427.2" y2="659.3" stroke="#000" stroke-width="1.2" />
<line x1="431.31" y1="656.5" x2="431.31" y2="659.3" stroke="#000" stroke-width="1.2" />
<line x1="434.5" y1="656.5" x2="434.5" y2="659.3" stroke="#000" stroke-width="1.2" />
<line x1="437.1" y1="656.5" x2="437.1" y2="659.3" stroke="#000" stroke-width="1.2" />
<line x1="439.3" y1="656.5" x2="439.3" y2="659.3" stroke="#000" stroke-width="1.2" />
<line x1="441.21" y1="656.5" x2="441.21" y2="659.3" stroke="#000" stroke-width="1.2" />
<line x1="442.89" y1="656.5" x2="442.89" y2="659.3" stroke="#000" stroke-width="1.2" />
<line x1="444.4" y1="656.5" x2="444.4" y2="661.5" stroke="#000" stroke-width="1.2" />
<line x1="454.3" y1="656.5" x2="454.3" y2="659.3" stroke="#000" stroke-width="1.2" />
<line x1="460.1" y1="656.5" x2="460.1" y2="659.3" stroke="#000" stroke-width="1.2" />
<line x1="464.21" y1="656.5" x2="464.21" y2="659.3" stroke="#000" stroke-width="1.2" />
<line x1="467.4" y1="656.5" x2="467.4" y2="659.3" stroke="#000" stroke-width="1.2" />
<line x1="470.0" y1="656.5" x2="470.0" y2="659.3" stroke="#000" stroke-width="1.2" />
<line x1="472.2" y1="656.5" x2="472.2" y2="659.3" stroke="#000" stroke-width="1.2" />
<line x1="474.11" y1="656.5" x2="474.11" y2="659.3" stroke="#000" stroke-width="1.2" />
<line x1="475.79" y1="656.5" x2="475.79" y2="659.3" stroke="#000" stroke-width="1.2" />
<line x1="477.3" y1="656.5" x2="477.3" y2="661.5" stroke="#000" stroke-width="1.2" />
<line x1="487.2" y1="656.5" x2="487.2" y2="659.3" stroke="#000" stroke-width="1.2" />
<line x1="493.0" y1="656.5" x2="493.0" y2="659.3" stroke="#000" stroke-width="1.2" />
<line x1="497.11" y1="656.5" x2="497.11" y2="659.3" stroke="#000" stroke-width="1.2" />
<line x1="500.3" y1="656.5" x2="500.3" y2="659.3" stroke="#000" stroke-width="1.2" />
<line x1="502.9" y1="656.5" x2="502.9" y2="659.3" stroke="#000" stroke-width="1.2" />
<line x1="505.1" y1="656.5" x2="505.1" y2="659.3" stroke="#000" stroke-width="1.2" />
<line x1="507.01" y1="656.5" x2="507.01" y2="659.3" stroke="#000" stroke-width="1.2" />
<line x1="508.69" y1="656.5" x2="508.69" y2="659.3" stroke="#000" stroke-width="1.2" />
<line x1="510.2" y1="656.5" x2="510.2" y2="661.5" stroke="#000" stroke-width="1.2" />
<text x="370.1" y="674.5" font-size="12.5" font-family='"Liberation Sans", Arial, Helvetica, sans-serif' textLength="11" lengthAdjust="spacingAndGlyphs">10</text>
<text x="381.7" y="668.7" font-size="11.8" font-family='"Liberation Sans", Arial, Helvetica, sans-serif' textLength="5.8" lengthAdjust="spacingAndGlyphs">0</text>
<text x="403.0" y="674.5" font-size="12.5" font-family='"Liberation Sans", Arial, Helvetica, sans-serif' textLength="11" lengthAdjust="spacingAndGlyphs">10</text>
<text x="414.6" y="668.7" font-size="11.8" font-family='"Liberation Sans", Arial, Helvetica, sans-serif' textLength="5.8" lengthAdjust="spacingAndGlyphs">1</text>
<text x="435.9" y="674.5" font-size="12.5" font-family='"Liberation Sans", Arial, Helvetica, sans-serif' textLength="11" lengthAdjust="spacingAndGlyphs">10</text>
<text x="447.5" y="668.7" font-size="11.8" font-family='"Liberation Sans", Arial, Helvetica, sans-serif' textLength="5.8" lengthAdjust="spacingAndGlyphs">2</text>
<text x="468.8" y="674.5" font-size="12.5" font-family='"Liberation Sans", Arial, Helvetica, sans-serif' textLength="11" lengthAdjust="spacingAndGlyphs">10</text>
<text x="480.4" y="668.7" font-size="11.8" font-family='"Liberation Sans", Arial, Helvetica, sans-serif' textLength="5.8" lengthAdjust="spacingAndGlyphs">3</text>
<text x="501.7" y="674.5" font-size="12.5" font-family='"Liberation Sans", Arial, Helvetica, sans-serif' textLength="11" lengthAdjust="spacingAndGlyphs">10</text>
<text x="513.3" y="668.7" font-size="11.8" font-family='"Liberation Sans", Arial, Helvetica, sans-serif' textLength="5.8" lengthAdjust="spacingAndGlyphs">4</text>
<text x="422.0" y="526.5" font-size="17.7" font-weight="bold" text-anchor="start" font-family='"Liberation Sans", Arial, Helvetica, sans-serif' >60 sec.</text>
<line x1="420.8" y1="596.6" x2="505.9" y2="596.6" stroke="#000" stroke-width="1.5" />
<line x1="420.8" y1="587.2" x2="420.8" y2="606.0" stroke="#000" stroke-width="1.6" />
<line x1="505.9" y1="587.2" x2="505.9" y2="606.0" stroke="#000" stroke-width="1.6" />
<text x="478" y="586" font-size="10.3" font-family='"Liberation Serif", "Times New Roman", serif' style="stroke-width:0.5px">M1</text>
<clipPath id="cp377"><rect x="377.5" y="534.6" width="132.7" height="121.89999999999998"/></clipPath>
<polyline points="377.6,653.0 379.3,653.0 381.0,652.6 382.5,653.2 384.0,653.3 385.5,652.4 387.0,652.0 388.5,651.9 390.0,652.8 391.5,651.9 393.0,651.8 394.5,652.0 396.0,652.6 397.5,652.0 399.0,652.2 400.5,652.3 402.0,651.6 403.5,652.1 405.0,652.4 406.5,652.1 408.0,651.5 409.6,652.1 411.1,652.4 412.6,652.4 414.0,652.0 415.5,651.9 417.0,651.8 419.5,651.6 420.2,650.5 421.5,649.5 422.5,648.2 423.2,647.0 424.1,645.2 424.7,643.5 425.1,642.2 425.6,640.9 426.0,639.6 426.3,638.3 426.2,637.0 426.8,635.6 426.7,634.3 427.1,633.0 427.0,631.4 427.3,629.8 427.9,628.2 427.9,626.6 427.8,625.2 428.3,623.9 428.6,622.5 428.4,621.1 428.5,619.7 428.7,618.4 428.8,617.0 429.1,615.5 429.3,614.0 429.3,612.5 429.5,611.0 429.3,609.5 429.7,608.0 429.6,606.6 429.8,605.2 430.2,603.9 430.0,602.5 430.3,601.1 430.1,599.8 430.2,598.4 430.6,597.0 430.6,595.6 431.0,594.2 431.1,592.8 431.2,591.4 431.1,589.9 431.4,588.5 431.5,587.1 431.6,585.7 431.7,584.4 431.5,583.1 432.1,581.8 431.8,580.5 432.4,579.2 432.4,577.9 431.9,576.6 432.3,575.3 432.4,574.0 432.7,572.7 432.9,571.4 432.6,570.0 432.6,568.7 432.6,567.4 433.2,566.0 432.8,564.7 433.1,563.4 433.3,562.1 433.1,560.7 433.4,559.4 433.8,558.0 433.4,556.7 433.9,555.3 433.8,554.0 433.9,552.5 434.3,551.1 434.3,549.6 434.1,548.2 434.4,546.7 434.8,545.3 434.6,543.9 434.4,542.5 434.5,541.2 435.0,539.8 435.0,538.4 435.1,537.0 435.3,535.6 435.2,534.3 435.6,533.0 437.3,532.8 439.0,533.0 439.1,534.5 439.5,536.0 439.9,537.7 439.4,539.4 439.9,541.1 440.2,542.4 440.4,543.7 440.1,545.0 440.8,546.4 440.8,547.7 440.8,549.0 441.2,550.5 441.0,552.0 441.2,553.5 441.4,554.9 442.0,556.4 441.8,557.9 442.0,559.2 441.9,560.5 442.1,561.8 442.1,563.1 442.0,564.4 442.1,565.7 442.5,567.0 442.8,568.3 442.5,569.7 443.0,571.0 442.7,572.4 442.8,573.7 443.0,575.1 443.1,576.4 443.0,577.8 443.2,579.1 443.7,580.5 443.7,581.9 443.7,583.3 443.7,584.6 443.7,586.0 444.1,587.5 444.2,589.0 444.0,590.5 444.2,592.0 443.8,593.5 444.2,595.0 444.5,596.3 444.4,597.6 444.8,598.9 444.8,600.2 444.7,601.5 444.7,602.8 445.4,604.1 445.0,605.4 445.4,606.7 445.5,608.0 445.6,609.3 445.7,610.7 446.2,612.0 446.5,613.3 446.2,614.7 446.5,616.0 446.8,617.4 446.7,618.8 447.1,620.1 447.2,621.5 447.4,622.9 447.4,624.3 447.5,625.7 447.7,627.2 448.4,628.6 448.3,630.0 448.5,631.5 448.6,632.9 449.2,634.3 449.2,635.8 449.9,637.1 449.8,638.4 449.9,639.7 450.5,641.0 450.8,642.4 451.2,643.7 452.0,645.1 452.6,646.2 453.1,647.4 454.0,648.5 454.7,649.6 455.7,650.7 457.4,651.2 459.0,652.2 460.4,652.7 461.7,653.5 463.1,653.5 464.7,654.0 466.4,653.9 468.0,654.2 469.3,654.1 470.7,654.3 472.0,654.2 473.3,654.2 474.7,653.9 476.0,654.2 477.3,654.9 478.7,654.1 480.0,654.5 481.4,654.5 482.7,654.7 484.1,655.0 485.5,654.3 486.8,654.4 488.2,654.4 489.5,654.6 490.9,654.7 492.3,655.2 493.6,655.2 495.0,654.8 496.4,655.2 497.7,654.3 499.1,654.3 500.5,655.1 501.8,655.3 503.2,654.8 504.5,655.0 505.9,654.3 507.3,654.8 508.6,655.4 510.0,654.9" fill="none" stroke="#000" stroke-width="1.5" stroke-linejoin="round" stroke-linecap="round" clip-path="url(#cp377)"/>
<polyline points="424.1,648.8 424.7,647.5 425.0,646.1 425.5,644.8 425.5,643.5 425.7,642.0 425.9,640.6 426.3,639.2 426.9,637.7 427.1,636.4 427.5,635.1 427.9,633.9 428.0,632.6 428.2,631.3 428.3,630.0 428.8,628.6 428.8,627.2 429.2,625.7 429.1,624.3 429.7,622.9 430.1,621.4 429.9,619.9 430.5,618.5 430.5,617.0 430.4,615.5 430.7,614.0 430.6,612.6 430.8,611.2 431.2,609.8 431.3,608.5 431.1,607.1 431.2,605.7 431.6,604.3 431.7,602.9 431.9,601.5 431.9,600.1 431.9,598.6 432.2,597.2 432.0,595.8 432.3,594.4 432.5,593.0 432.6,591.6 433.0,590.2 432.9,588.9 433.2,587.5 433.0,586.1 433.0,584.8 433.1,583.4 433.4,582.0 433.9,580.7 433.9,579.3 433.8,578.0 433.8,576.7 434.2,575.3 434.4,574.0 434.7,572.6 434.7,571.2 434.8,569.9 435.2,568.5 435.3,567.1 435.8,565.6 435.6,564.0 435.7,562.5 436.2,561.0 436.4,559.3 436.7,557.7 437.1,556.0 437.5,554.7 437.5,553.3 438.0,552.0 438.7,550.3 439.0,548.6 440.4,548.0 441.3,549.2 441.8,550.4 442.1,551.9 442.2,553.5 442.7,555.0 443.2,556.3 442.9,557.6 443.5,559.0 443.2,560.3 443.6,561.6 443.5,562.9 444.0,564.2 443.8,565.5 444.4,566.8 444.2,568.1 444.1,569.4 444.3,570.7 444.6,572.0 444.7,573.4 445.0,574.9 445.3,576.3 444.9,577.7 445.2,579.1 445.2,580.6 445.5,582.0 446.0,583.4 445.5,584.9 445.6,586.3 445.8,587.7 446.1,589.1 446.6,590.6 446.5,592.0 446.9,593.4 447.0,594.9 447.3,596.3 447.4,597.7 447.1,599.2 447.4,600.6 447.4,602.1 448.1,603.5 448.2,605.0 448.3,606.5 448.2,607.8 448.9,609.1 448.9,610.4 449.2,611.7 449.5,613.2 449.8,614.6 450.0,616.0 450.6,617.5 450.6,618.9 451.2,620.2 451.6,621.5 452.0,622.9 452.7,624.3 452.5,625.7 453.4,627.1 453.4,628.5 453.6,629.9 454.0,631.2 454.7,632.6 454.8,634.0 455.5,635.7 455.7,637.3 456.2,639.0 456.4,640.4 457.1,641.9 457.6,643.3 458.1,644.7 459.1,646.1 459.5,647.5 460.2,649.1 461.3,650.7 462.6,651.5 464.0,652.5 465.4,653.4 466.9,653.5 468.6,653.2 470.3,653.9 472.0,654.2 473.3,654.6 474.6,654.6 475.9,653.8 477.2,653.8 478.5,653.9 479.8,654.9 481.1,654.2 482.4,654.8 483.7,655.0 485.0,654.6 486.4,654.4 487.7,654.4 489.1,655.2 490.5,654.8 491.8,654.4 493.2,654.9 494.5,654.5 495.9,654.5 497.3,654.2 498.6,655.1 500.0,654.8 501.4,655.3 502.9,655.0 504.3,655.3 505.7,654.3 507.1,654.6 508.6,654.9 510.0,654.9" fill="none" stroke="#000" stroke-width="1.5" stroke-linejoin="round" stroke-linecap="round" stroke-dasharray="3.2,1.8" clip-path="url(#cp377)"/>
<text x="279.5" y="697.4" font-size="22" text-anchor="middle" font-family='"Liberation Sans", Arial, Helvetica, sans-serif' textLength="93.5" lengthAdjust="spacingAndGlyphs">CD62-PE</text>
</svg>
</body></html>
